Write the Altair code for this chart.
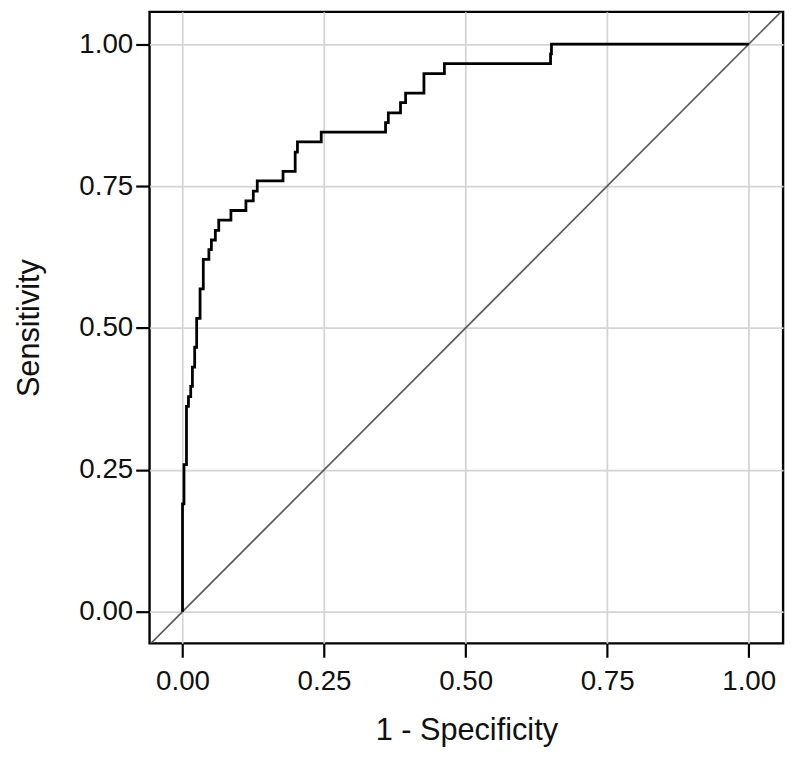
import altair as alt
import pandas as pd

# ROC curve corner points (1 - specificity, sensitivity)
fpr = [0.0, 0.0, 0.0026, 0.007, 0.0105, 0.0145, 0.0175, 0.0215, 0.025, 0.031,
       0.0367, 0.0466, 0.051, 0.058, 0.064, 0.0855, 0.112, 0.125, 0.132, 0.1775,
       0.199, 0.203, 0.245, 0.3586, 0.3635, 0.385, 0.394, 0.4264, 0.4625, 0.65,
       0.6516, 1.0]
tpr = [0.0, 0.190, 0.259, 0.362, 0.379, 0.397, 0.431, 0.466, 0.517, 0.569,
       0.621, 0.638, 0.655, 0.672, 0.690, 0.707, 0.724, 0.741, 0.759, 0.776,
       0.810, 0.828, 0.845, 0.862, 0.879, 0.897, 0.914, 0.948, 0.966, 0.983,
       1.0, 1.0]

ticks = [0.0, 0.25, 0.5, 0.75, 1.0]
x_domain = [-0.0582, 1.0607]
y_domain = [-0.0558, 1.0571]
diag = [-0.07, 1.08]

roc = pd.DataFrame({"fpr": fpr, "tpr": tpr, "i": list(range(len(fpr)))})
ref = pd.DataFrame({"fpr": diag, "tpr": diag, "i": [0, 1]})

FONT = "Liberation Sans"

xenc = alt.X("fpr:Q", scale=alt.Scale(domain=x_domain, nice=False, zero=False),
             axis=alt.Axis(values=ticks, format=".2f", title="1 - Specificity",
                           labelPadding=11, titlePadding=20))
yenc = alt.Y("tpr:Q", scale=alt.Scale(domain=y_domain, nice=False, zero=False),
             axis=alt.Axis(values=ticks, format=".2f", title="Sensitivity",
                           labelPadding=3, titlePadding=34))

diag_line = alt.Chart(ref).mark_line(color="#5a5a5a", strokeWidth=1.7, clip=True).encode(
    x=xenc, y=yenc, order="i:Q")

curve = alt.Chart(roc).mark_line(color="black", strokeWidth=2.8, interpolate="step-after").encode(
    x=xenc, y=yenc, order="i:Q")

chart = (diag_line + curve).properties(
    width=640, height=638,
    autosize=alt.AutoSizeParams(type="none"),
    padding={"left": 143, "top": 0, "right": 9, "bottom": 118},
).configure_view(
    stroke="black", strokeWidth=2.4
).configure_axis(
    grid=True, gridColor="#d4d4d4", gridWidth=1.8,
    domain=False,
    ticks=True, tickColor="black", tickWidth=2.2, tickSize=14,
    labelFont=FONT, labelFontSize=28, labelColor="#111",
    titleFont=FONT, titleFontSize=31, titleColor="#111", titleFontWeight="normal",
)

chart.save("out.html", embed_options={"renderer": "svg", "actions": False})
